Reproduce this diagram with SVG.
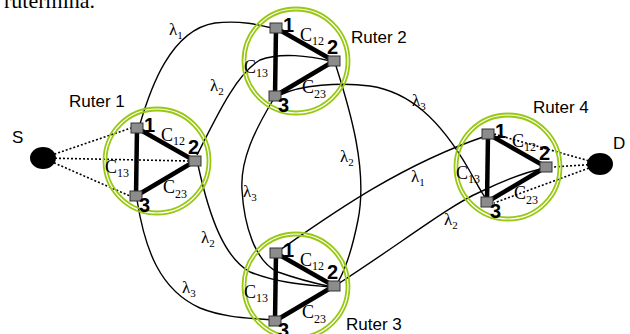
<svg xmlns="http://www.w3.org/2000/svg" width="630" height="334" viewBox="0 0 630 334">
<style>
.ring{fill:none;stroke:#99c814;stroke-width:1.8}
.edge{stroke:#000;stroke-width:4.5;stroke-linecap:butt}
.sq{fill:#8c8c8c;stroke:#333;stroke-width:1}
.num{font-family:"Liberation Sans",Arial,sans-serif;font-size:20px;font-weight:bold;fill:#000}
.lbl{font-family:"Liberation Sans",Arial,sans-serif;font-size:17px;fill:#000}
.c{font-family:"Liberation Serif","Times New Roman",serif;font-size:18px;fill:#000}
.sub{font-size:12px}
.lam{font-family:"Liberation Serif","Times New Roman",serif;font-size:17px;fill:#000}
.lsub{font-size:11px}
.con{fill:none;stroke:#000;stroke-width:1.4}
.dot{stroke:#000;stroke-width:1.6;stroke-dasharray:2,2}
</style>
<defs>
<g id="router">
<circle class="ring" cx="157" cy="161" r="50.5"/>
<circle class="ring" cx="157" cy="161" r="53.5"/>
</g>
<g id="core">
<line class="edge" x1="137" y1="128" x2="195" y2="161"/>
<line class="edge" x1="137" y1="128" x2="136" y2="196"/>
<line class="edge" x1="136" y1="196" x2="195" y2="161"/>
<rect class="sq" x="131" y="123" width="12" height="10"/>
<rect class="sq" x="189" y="156" width="12" height="10"/>
<rect class="sq" x="130" y="191" width="12" height="10"/>
<text class="num" x="144" y="132">1</text>
<text class="num" x="188" y="154">2</text>
<text class="num" x="139" y="212">3</text>
<text class="c" x="161" y="141">C<tspan class="sub" dy="4">12</tspan></text>
<text class="c" x="105" y="173">C<tspan class="sub" dy="4">13</tspan></text>
<text class="c" x="163" y="193">C<tspan class="sub" dy="5">23</tspan></text>
</g>
</defs>

<text x="4" y="8" font-family="Liberation Serif, Times New Roman, serif" font-size="22" fill="#000">rutermina.</text>

<g id="connectors">
<path class="con" d="M140,124 C150,90 170,30 215,23 C240,20 260,25 272,28"/>
<path class="con" d="M197,155 C215,120 235,75 260,60 C280,52 310,56 330,61"/>
<path class="con" d="M198,165 C210,220 225,258 250,272 C280,284 310,285 330,287"/>
<path class="con" d="M137,200 C145,250 160,290 200,308 C225,318 250,318 272,320"/>
<path class="con" d="M273,100 C255,130 240,160 242,190 C244,225 255,262 278,272 C300,280 318,284 332,287"/>
<path class="con" d="M336,66 C350,110 368,170 358,220 C352,250 345,270 338,282"/>
<path class="con" d="M280,95 C300,85 340,82 370,86 C410,92 440,120 468,168 C476,182 482,194 487,200"/>
<path class="con" d="M280,250 C330,215 400,165 486,136"/>
<path class="con" d="M338,284 C400,244 450,205 480,192 C505,180 525,172 545,168"/>
<line class="dot" x1="43" y1="158" x2="131" y2="128"/>
<line class="dot" x1="43" y1="158" x2="189" y2="161"/>
<line class="dot" x1="43" y1="158" x2="130" y2="196"/>
<line class="dot" x1="600" y1="164" x2="494" y2="134"/>
<line class="dot" x1="600" y1="164" x2="553" y2="167"/>
<line class="dot" x1="600" y1="164" x2="494" y2="203"/>
<text class="lam" x="169" y="35">λ<tspan class="lsub" dy="4">1</tspan></text>
<text class="lam" x="210" y="91">λ<tspan class="lsub" dy="4">2</tspan></text>
<text class="lam" x="201" y="243">λ<tspan class="lsub" dy="4">2</tspan></text>
<text class="lam" x="182" y="293">λ<tspan class="lsub" dy="4">3</tspan></text>
<text class="lam" x="243" y="197">λ<tspan class="lsub" dy="4">3</tspan></text>
<text class="lam" x="340" y="162">λ<tspan class="lsub" dy="4">2</tspan></text>
<text class="lam" x="412" y="106">λ<tspan class="lsub" dy="4">3</tspan></text>
<text class="lam" x="411" y="182">λ<tspan class="lsub" dy="4">1</tspan></text>
<text class="lam" x="444" y="225">λ<tspan class="lsub" dy="4">2</tspan></text>
</g>

<g id="S">
<ellipse cx="43" cy="158" rx="13" ry="11" fill="#000"/>
<text class="lbl" x="12" y="143">S</text>
</g>
<g id="D">
<ellipse cx="600" cy="164" rx="13" ry="11" fill="#000"/>
<text class="lbl" x="613" y="149">D</text>
</g>

<g id="ruter1">
<use href="#router"/>
<use href="#core"/>
<text class="lbl" x="69" y="107">Ruter 1</text>
</g>
<g id="ruter2">
<use href="#router" transform="translate(139,-100)"/>
<use href="#core" transform="translate(139,-100)"/>
<text class="lbl" x="351" y="43">Ruter 2</text>
</g>
<g id="ruter3">
<use href="#router" transform="translate(139,125)"/>
<use href="#core" transform="translate(139,125)"/>
<text class="lbl" x="346" y="330">Ruter 3</text>
</g>
<g id="ruter4">
<use href="#router" transform="translate(351,6)"/>
<use href="#core" transform="translate(351,6)"/>
<text class="lbl" x="533" y="113">Ruter 4</text>
</g>
</svg>
